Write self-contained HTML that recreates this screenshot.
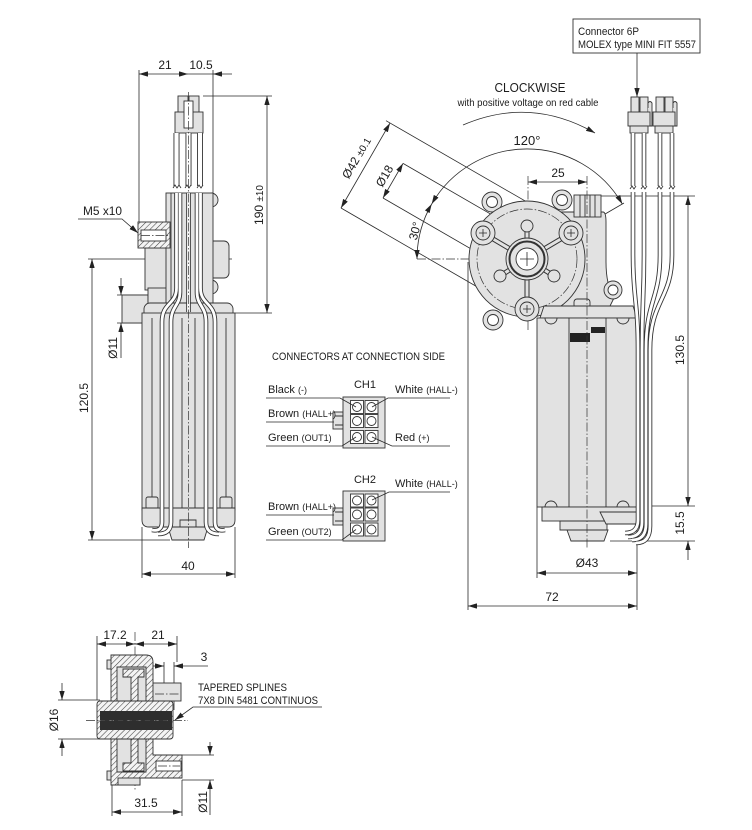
<!DOCTYPE html>
<html><head><meta charset="utf-8"><style>
html,body{margin:0;padding:0;background:#fff;}
svg{display:block}
text{font-family:"Liberation Sans",Arial,sans-serif;fill:#1c1c1c}
.d{stroke:#2a2a2a;stroke-width:.8;fill:none}
.c{stroke:#333;stroke-width:.7;fill:none;stroke-dasharray:9 2 1.5 2}
.g{fill:#e2e2e2;stroke:#333;stroke-width:.9}
.w{fill:#fff;stroke:#333;stroke-width:.9}
.k{fill:none;stroke:#333;stroke-width:.9}
.hh{fill:url(#h);stroke:#333;stroke-width:.9}
.wo{fill:none;stroke:#333;stroke-width:6}
.wi{fill:none;stroke:#fff;stroke-width:4.2}
.ro{fill:none;stroke:#333;stroke-width:4.6}
.ri{fill:none;stroke:#fff;stroke-width:2.8}
.so{fill:none;stroke:#333;stroke-width:5}
.si{fill:none;stroke:#e2e2e2;stroke-width:3}
</style></head><body>
<svg width="752" height="830" viewBox="0 0 752 830" xmlns="http://www.w3.org/2000/svg">
<defs>
<marker id="a" viewBox="0 0 10 6" refX="10" refY="3" markerWidth="9" markerHeight="5.4" markerUnits="userSpaceOnUse" orient="auto-start-reverse"><path d="M0,0 L10,3 L0,6 z" fill="#222"/></marker>
<pattern id="h" width="4" height="4" patternUnits="userSpaceOnUse" patternTransform="rotate(45)"><rect width="4" height="4" fill="#f4f4f4"/><line x1="0" y1="0" x2="0" y2="4" stroke="#444" stroke-width="1.1"/></pattern>
</defs>

<!-- ================= LEFT VIEW ================= -->
<!-- dims -->
<path class="d" d="M139,70V222 M213,70V194 M203,96H272 M235,313H272 M88,259H232 M88,540H170 M117,295H148 M117,323H143 M142,527V578 M235,527V578"/>
<line class="d" x1="139" y1="74" x2="188" y2="74" marker-start="url(#a)" marker-end="url(#a)"/>
<line class="d" x1="188" y1="74" x2="213" y2="74"/>
<line class="d" x1="232" y1="74" x2="213" y2="74" marker-end="url(#a)"/>
<text x="165" y="69" font-size="12" text-anchor="middle">21</text>
<text x="201" y="69" font-size="12" text-anchor="middle">10.5</text>
<line class="d" x1="267" y1="96" x2="267" y2="313" marker-start="url(#a)" marker-end="url(#a)"/>
<text transform="translate(263,205) rotate(-90)" font-size="12" text-anchor="middle">190 <tspan font-size="10">±10</tspan></text>
<line class="d" x1="92" y1="259" x2="92" y2="540" marker-start="url(#a)" marker-end="url(#a)"/>
<text transform="translate(88,398) rotate(-90)" font-size="12" text-anchor="middle">120.5</text>
<line class="d" x1="121" y1="278" x2="121" y2="295" marker-end="url(#a)"/>
<line class="d" x1="121" y1="358" x2="121" y2="323" marker-end="url(#a)"/>
<text transform="translate(117,348) rotate(-90)" font-size="12" text-anchor="middle">Ø11</text>
<line class="d" x1="142" y1="574" x2="235" y2="574" marker-start="url(#a)" marker-end="url(#a)"/>
<text x="188" y="570" font-size="12" text-anchor="middle">40</text>
<text x="83" y="215" font-size="12" textLength="39" lengthAdjust="spacingAndGlyphs">M5 x10</text>
<path class="d" d="M78,219H122L138,233" marker-end="url(#a)"/>

<!-- plug -->
<rect class="g" x="178" y="96" width="10" height="17"/>
<rect class="g" x="189" y="96" width="10" height="17"/>
<rect class="g" x="175" y="112" width="28" height="21"/>
<rect class="w" x="184" y="101" width="9" height="27"/>
<!-- upper wires -->
<path class="wo" d="M176.5,133V186 M188.5,133V186 M200,133V186"/>
<path class="wi" d="M176.5,133V186 M188.5,133V186 M200,133V186"/>
<path class="k" d="M173,188l2,-3l2,3l2,-3l2,3 M185,188l2,-3l2,3l2,-3 M197,188l2,-3l2,3l2,-3"/>

<!-- gear housing left -->
<rect class="g" x="122" y="295" width="26" height="28"/>
<rect class="g" x="145" y="248" width="30" height="42"/>
<rect class="g" x="148" y="288" width="27" height="17"/>
<path class="g" d="M211,193 a7,7 0 0 1 0,14Z"/>
<path class="g" d="M211,280 a7,7 0 0 1 0,14Z"/>
<rect class="g" x="205" y="241" width="24" height="37" rx="5"/>
<rect class="g" x="166" y="193" width="47" height="112"/>
<line class="k" x1="171" y1="193" x2="171" y2="305"/>
<rect class="hh" x="138" y="222" width="32" height="26"/>
<rect class="w" x="141" y="230" width="25" height="11"/>
<line class="c" x1="141" y1="235.5" x2="168" y2="235.5"/>

<!-- motor body left -->
<rect class="g" x="144" y="303" width="89" height="16" rx="6"/>
<rect class="g" x="142" y="313" width="93" height="197"/>
<path class="k" d="M152,318V505 M226,318V505 M182,318V510 M195,318V510"/>
<rect class="g" x="146" y="497" width="12" height="12" rx="2"/>
<rect class="g" x="220" y="497" width="12" height="12" rx="2"/>
<path class="g" d="M142,508H235V520Q235,527 228,527H149Q142,527 142,520Z"/>
<path class="g" d="M168,527H208L204,540H172Z"/>
<path class="g" d="M180,520H196V527H180Z"/>
<!-- lower wires -->
<path class="ro" d="M176.5,193V288C176.5,305 162,302 162,322V522Q162,532 152,530 M180,193V292C180,306 171,306 171,322V522Q171,534 158,534 M197,193V292C197,306 206,306 206,322V522Q206,534 219,534 M200.5,193V288C200.5,305 215,302 215,322V522Q215,532 225,530 M188.5,193V312"/>
<path class="ri" d="M176.5,193V288C176.5,305 162,302 162,322V522Q162,532 152,530 M180,193V292C180,306 171,306 171,322V522Q171,534 158,534 M197,193V292C197,306 206,306 206,322V522Q206,534 219,534 M200.5,193V288C200.5,305 215,302 215,322V522Q215,532 225,530 M188.5,193V312"/>
<line class="c" x1="188.5" y1="92" x2="188.5" y2="548"/>

<!-- ================= CONNECTOR DIAGRAMS ================= -->
<text x="272" y="360" font-size="11" textLength="173" lengthAdjust="spacingAndGlyphs">CONNECTORS AT CONNECTION SIDE</text>
<text x="365" y="388" font-size="11" text-anchor="middle">CH1</text>
<rect class="g" x="333" y="412" width="10" height="17"/>
<path class="k" d="M335,416H343M335,425H343"/>
<rect class="g" x="343" y="397" width="42" height="51"/>
<g class="w">
<rect x="350.5" y="400.5" width="13" height="13"/><rect x="365" y="400.5" width="13" height="13"/>
<rect x="350.5" y="414.5" width="13" height="13"/><rect x="365" y="414.5" width="13" height="13"/>
<rect x="350.5" y="430.5" width="13" height="13"/><rect x="365" y="430.5" width="13" height="13"/>
<circle cx="357" cy="407" r="4.5"/><circle cx="371.5" cy="407" r="4.5"/>
<circle cx="357" cy="421" r="4.5"/><circle cx="371.5" cy="421" r="4.5"/>
<circle cx="357" cy="437" r="4.5"/><circle cx="371.5" cy="437" r="4.5"/>
</g>
<path class="d" d="M266,398H340L356,407 M266,422H334 M266,446H342L356,437 M372,407L388,398H450 M372,437L392,446H450"/>
<text x="268" y="393" font-size="11">Black <tspan font-size="9">(-)</tspan></text>
<text x="268" y="417" font-size="11">Brown <tspan font-size="9">(HALL+)</tspan></text>
<text x="268" y="441" font-size="11">Green <tspan font-size="9">(OUT1)</tspan></text>
<text x="395" y="393" font-size="11">White <tspan font-size="9">(HALL-)</tspan></text>
<text x="395" y="441" font-size="11">Red <tspan font-size="9">(+)</tspan></text>

<text x="365" y="483" font-size="11" text-anchor="middle">CH2</text>
<rect class="g" x="333" y="508" width="10" height="17"/>
<path class="k" d="M335,512H343M335,521H343"/>
<rect class="g" x="343" y="491" width="42" height="50"/>
<g class="w">
<rect x="350.5" y="494" width="13" height="13"/><rect x="365" y="494" width="13" height="13"/>
<rect x="350.5" y="508" width="13" height="13"/><rect x="365" y="508" width="13" height="13"/>
<rect x="350.5" y="523" width="13" height="13"/><rect x="365" y="523" width="13" height="13"/>
<circle cx="357" cy="500.5" r="4.5"/><circle cx="371.5" cy="500.5" r="4.5"/>
<circle cx="357" cy="514.5" r="4.5"/><circle cx="371.5" cy="514.5" r="4.5"/>
<circle cx="357" cy="529.5" r="4.5"/><circle cx="371.5" cy="529.5" r="4.5"/>
</g>
<path class="d" d="M372,500L389,492H450 M266,515H334 M266,540H342L356,529.5"/>
<text x="395" y="487" font-size="11">White <tspan font-size="9">(HALL-)</tspan></text>
<text x="268" y="510" font-size="11">Brown <tspan font-size="9">(HALL+)</tspan></text>
<text x="268" y="535" font-size="11">Green <tspan font-size="9">(OUT2)</tspan></text>

<!-- ================= RIGHT VIEW ================= -->
<rect x="573" y="19" width="127" height="34" fill="#fff" stroke="#333" stroke-width=".9"/>
<text x="578" y="35" font-size="11" textLength="61" lengthAdjust="spacingAndGlyphs">Connector 6P</text>
<text x="578" y="48" font-size="11" textLength="118" lengthAdjust="spacingAndGlyphs">MOLEX type MINI FIT 5557</text>
<line class="d" x1="637" y1="53" x2="637" y2="97" marker-end="url(#a)"/>

<text x="530" y="92" font-size="13" text-anchor="middle" textLength="71" lengthAdjust="spacingAndGlyphs">CLOCKWISE</text>
<text x="528" y="106" font-size="10" text-anchor="middle" textLength="141" lengthAdjust="spacingAndGlyphs">with positive voltage on red cable</text>
<path class="d" d="M463,125Q530,96 595,133" marker-end="url(#a)"/>

<!-- dims right -->
<path class="d" d="M600,196H695 M637,506H695 M610,541H695 M537,507V578 M637,522V610 M468,262V610"/>
<line class="d" x1="528" y1="182" x2="587" y2="182" marker-start="url(#a)" marker-end="url(#a)"/>
<text x="558" y="177" font-size="12" text-anchor="middle">25</text>
<line class="d" x1="688" y1="196" x2="688" y2="506" marker-start="url(#a)" marker-end="url(#a)"/>
<line class="d" x1="688" y1="560" x2="688" y2="541" marker-end="url(#a)"/>
<text transform="translate(684,350) rotate(-90)" font-size="12" text-anchor="middle">130.5</text>
<text transform="translate(684,523) rotate(-90)" font-size="12" text-anchor="middle">15.5</text>
<line class="d" x1="537" y1="573" x2="637" y2="573" marker-start="url(#a)" marker-end="url(#a)"/>
<text x="587" y="567" font-size="12" text-anchor="middle">Ø43</text>
<line class="d" x1="468" y1="606" x2="637" y2="606" marker-start="url(#a)" marker-end="url(#a)"/>
<text x="552" y="601" font-size="12" text-anchor="middle">72</text>

<!-- angular / diameter dims -->
<path class="d" d="M386,120.7L568,225.7 M341,208L505,303 M403,163.4L538,241.5 M383,198L517,275.5 M545,249L624,203"/>
<line class="d" x1="341" y1="208" x2="390" y2="123.1" marker-start="url(#a)" marker-end="url(#a)"/>
<line class="d" x1="383" y1="198" x2="403" y2="163.4" marker-start="url(#a)" marker-end="url(#a)"/>
<path class="d" d="M431.7,204A110,110 0 0 1 622.3,204" marker-start="url(#a)" marker-end="url(#a)"/>
<path class="d" d="M417,259A110,110 0 0 1 431.7,204" marker-start="url(#a)" marker-end="url(#a)"/>
<text x="527" y="145" font-size="13" text-anchor="middle">120°</text>
<text transform="translate(360,160) rotate(-60)" font-size="12" text-anchor="middle">Ø42 <tspan font-size="10">±0.1</tspan></text>
<text transform="translate(388,178) rotate(-60)" font-size="12" text-anchor="middle">Ø18</text>
<text transform="translate(419,232) rotate(-75)" font-size="12" text-anchor="middle">30°</text>

<!-- connectors right -->
<g>
<rect class="g" x="631" y="97" width="8" height="16"/><rect class="g" x="640" y="97" width="8" height="16"/>
<path class="g" d="M648,108V103Q650,100 652,103V126H649"/>
<rect class="g" x="628" y="112" width="22" height="14"/>
<rect class="g" x="630" y="126" width="18" height="7"/>
<rect class="g" x="656" y="97" width="8" height="16"/><rect class="g" x="665" y="97" width="8" height="16"/>
<path class="g" d="M673,108V103Q675,100 677,103V126H674"/>
<rect class="g" x="653" y="112" width="22" height="14"/>
<rect class="g" x="655" y="126" width="18" height="7"/>
</g>

<!-- center lines -->
<line class="c" x1="417" y1="259" x2="605" y2="259"/>
<line class="c" x1="528" y1="176" x2="528" y2="330"/>

<!-- side housing -->
<path class="g" d="M545,212H603Q606,212 606,222V262Q606,285 614,298L606,314H545Z"/>
<rect class="g" x="574" y="195" width="27" height="22"/>
<path class="k" d="M580,195V217M585,195V217M590,195V217M595,195V217"/>
<!-- lugs -->
<g class="g"><circle cx="492" cy="202" r="10"/><circle cx="562" cy="200" r="10"/><circle cx="493" cy="320" r="10"/><circle cx="613" cy="290" r="9"/></g>
<circle class="g" cx="527" cy="259" r="58"/>
<g class="w"><circle cx="492" cy="202" r="5.5"/><circle cx="562" cy="200" r="5.5"/><circle cx="493" cy="320" r="5.5"/><circle cx="613" cy="290" r="5"/></g>
<circle class="c" cx="527" cy="259" r="50"/>
<path class="so" d="M527,259L483,233M527,259L571,233M527,259L527,309M527,259L527,226M527,259L500,276M527,259L554,276"/>
<path class="si" d="M527,259L483,233M527,259L571,233M527,259L527,309M527,259L527,226M527,259L500,276M527,259L554,276"/>
<g class="g"><circle cx="483" cy="233" r="12"/><circle cx="571" cy="233" r="12"/><circle cx="527" cy="309" r="12"/>
<circle cx="527" cy="226" r="6"/><circle cx="500" cy="276" r="6"/><circle cx="554" cy="276" r="6"/></g>
<g class="k"><circle cx="483" cy="233" r="7"/><circle cx="571" cy="233" r="7"/><circle cx="527" cy="309" r="7"/></g>
<circle class="g" cx="527" cy="259" r="21"/>
<circle cx="527" cy="259" r="17.5" fill="none" stroke="#333" stroke-width="2"/>
<circle class="w" cx="527" cy="259" r="11"/>
<path class="d" d="M520,259H534M527,252V266M479,233H487M483,229V237M567,233H575M571,229V237M523,309H531M527,305V313"/>

<!-- motor right -->
<rect class="g" x="574" y="299" width="16" height="9" rx="3"/>
<path class="g" d="M540,318L544,306H633L637,318Z"/>
<rect class="g" x="537" y="318" width="100" height="189"/>
<path class="k" d="M569,318V507 M606,318V507 M545,318a6,6 0 0 0 12,0 M617,318a6,6 0 0 0 12,0 M545,507a6,6 0 0 1 12,0 M617,507a6,6 0 0 1 12,0"/>
<rect x="570" y="333" width="20" height="9" fill="#222"/>
<rect x="591" y="327" width="14" height="6" fill="#222"/>
<rect class="g" x="542" y="507" width="96" height="14"/>
<path class="g" d="M560,521H607V530H560Z"/>
<path class="g" d="M567,530H608L604,541H571Z"/>
<path class="g" d="M600,512H637V524H606Z"/>
<line class="c" x1="587" y1="176" x2="587" y2="548"/>

<!-- wires right -->
<path class="wo" style="stroke-width:4.6" d="M633,133V186 M644,133V186 M660,133V186 M672,133V186"/>
<path class="wi" style="stroke-width:2.8" d="M633,133V186 M644,133V186 M660,133V186 M672,133V186"/>
<path class="k" d="M630,189l2,-3l2,3l2,-3 M641,189l2,-3l2,3l2,-3 M657,189l2,-3l2,3l2,-3 M669,189l2,-3l2,3l2,-3"/>
<path class="ro" d="M633,192V255C633,300 638,300 638,350V520Q638,533 625,533 M644,192V255C644,300 642,300 642,350V522Q642,537 628,537 M660,192V255C660,300 646,300 646,350V524Q646,540 632,540 M672,192V255C672,300 650,300 650,350V526Q650,543 636,543"/>
<path class="ri" d="M633,192V255C633,300 638,300 638,350V520Q638,533 625,533 M644,192V255C644,300 642,300 642,350V522Q642,537 628,537 M660,192V255C660,300 646,300 646,350V524Q646,540 632,540 M672,192V255C672,300 650,300 650,350V526Q650,543 636,543"/>

<!-- ================= BOTTOM SECTION VIEW ================= -->
<path class="d" d="M97,636V700 M177,636V662 M164,662V690 M174,662V710 M58,700H100 M58,739H100 M182,755H214 M182,780H214 M112,780V816 M182,780V816"/>
<line class="c" x1="135" y1="632" x2="135" y2="790"/>
<line class="d" x1="97" y1="644" x2="135" y2="644" marker-start="url(#a)" marker-end="url(#a)"/>
<line class="d" x1="135" y1="644" x2="177" y2="644" marker-start="url(#a)" marker-end="url(#a)"/>
<text x="115" y="639" font-size="12" text-anchor="middle">17.2</text>
<text x="158" y="639" font-size="12" text-anchor="middle">21</text>
<line class="d" x1="150" y1="666" x2="164" y2="666" marker-end="url(#a)"/>
<line class="d" x1="208" y1="666" x2="174" y2="666" marker-end="url(#a)"/>
<text x="204" y="661" font-size="12" text-anchor="middle">3</text>
<line class="d" x1="62" y1="683" x2="62" y2="700" marker-end="url(#a)"/>
<line class="d" x1="62" y1="756" x2="62" y2="739" marker-end="url(#a)"/>
<text transform="translate(58,720) rotate(-90)" font-size="12" text-anchor="middle">Ø16</text>
<line class="d" x1="210" y1="742" x2="210" y2="755" marker-end="url(#a)"/>
<line class="d" x1="210" y1="815" x2="210" y2="780" marker-end="url(#a)"/>
<text transform="translate(207,802) rotate(-90)" font-size="12" text-anchor="middle">Ø11</text>
<line class="d" x1="112" y1="812" x2="182" y2="812" marker-start="url(#a)" marker-end="url(#a)"/>
<text x="146" y="807" font-size="12" text-anchor="middle">31.5</text>
<text x="198" y="691" font-size="11" textLength="89" lengthAdjust="spacingAndGlyphs">TAPERED SPLINES</text>
<text x="198" y="704" font-size="11" textLength="120" lengthAdjust="spacingAndGlyphs">7X8 DIN 5481 CONTINUOS</text>
<path class="d" d="M322,707H193L175,720" marker-end="url(#a)"/>

<rect x="117" y="660" width="35" height="115" fill="#e2e2e2"/>
<rect class="g" x="152" y="683" width="29" height="18"/>
<line class="c" x1="155" y1="694" x2="180" y2="694"/>
<rect class="g" x="107" y="660" width="5" height="9"/>
<rect class="g" x="107" y="771" width="5" height="9"/>
<path class="hh" d="M111,655H146Q153,655 153,662V702H146V667H117V702H111Z"/>
<path class="hh" d="M111,785H140V778H182V755H153V739H146V772H117V739H111Z"/>
<rect class="g" x="118" y="778" width="22" height="7"/>
<path class="hh" d="M123,669H144V677H138V703H131V677H123Z"/>
<path class="hh" d="M123,771H144V763H138V739H131V763H123Z"/>
<rect class="hh" x="97" y="701" width="76" height="38" rx="3"/>
<rect x="100" y="711" width="72" height="19" fill="#2e2e2e"/>
<line x1="100" y1="720.5" x2="172" y2="720.5" stroke="#888" stroke-width=".8" stroke-dasharray="5 4"/>
<rect class="w" x="156" y="761" width="25" height="10"/>
<line class="c" x1="158" y1="766" x2="180" y2="766"/>
<line class="c" x1="86" y1="720.5" x2="188" y2="720.5"/>
</svg>
</body></html>
